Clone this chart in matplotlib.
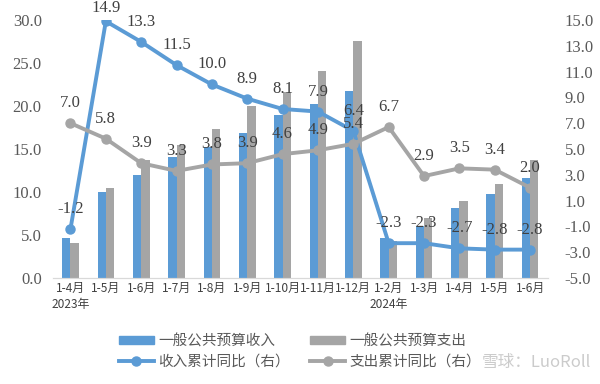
import numpy as np
import matplotlib
matplotlib.use('Agg')
import matplotlib.pyplot as plt
from matplotlib.patches import Patch
from matplotlib.lines import Line2D

plt.rcParams['font.family'] = ['Noto Sans CJK SC', 'DejaVu Sans']

# data
months = ['1-4月', '1-5月', '1-6月', '1-7月', '1-8月', '1-9月', '1-10月',
          '1-11月', '1-12月', '1-2月', '1-3月', '1-4月', '1-5月', '1-6月']
years = ['2023年', '', '', '', '', '', '', '', '', '2024年', '', '', '', '']
revenue = [4.6, 10.0, 12.0, 14.1, 15.2, 16.9, 18.9, 20.2, 21.8, 4.6, 6.1, 8.1, 9.8, 11.6]
spending = [4.1, 10.5, 13.7, 15.5, 17.3, 20.0, 21.6, 24.1, 27.6, 4.3, 7.0, 9.0, 10.9, 13.7]
revenue_yoy = [-1.2, 14.9, 13.3, 11.5, 10.0, 8.9, 8.1, 7.9, 6.4, -2.3, -2.3, -2.7, -2.8, -2.8]
spending_yoy = [7.0, 5.8, 3.9, 3.3, 3.8, 3.9, 4.6, 4.9, 5.4, 6.7, 2.9, 3.5, 3.4, 2.0]

blue = '#5B9BD5'
grey = '#A5A5A5'
txt = '#595959'
num_font = ['Liberation Serif', 'Noto Sans CJK SC']

fig = plt.figure(figsize=(6, 3.84), dpi=100)
ax = fig.add_axes([0.088, 0.276, 0.825, 0.672])
ax2 = ax.twinx()

x = np.arange(len(months))
w = 0.235
ax.bar(x - w / 2, revenue, w, color=blue, zorder=2)
ax.bar(x + w / 2, spending, w, color=grey, zorder=2)

ax2.plot(x, revenue_yoy, color=blue, lw=2.8, marker='o', ms=6.5, zorder=3)
ax2.plot(x, spending_yoy, color=grey, lw=2.8, marker='o', ms=6.5, zorder=3)

ax.set_xlim(-0.5, len(months) - 0.5)
ax.set_ylim(0, 30)
ax.set_yticks(np.arange(0, 31, 5))
ax.set_yticklabels(['{:.1f}'.format(v) for v in np.arange(0, 31, 5)])
ax2.set_ylim(-5, 15)
ax2.set_yticks(np.arange(-5, 16, 2))
ax2.set_yticklabels(['{:.1f}'.format(v) for v in np.arange(-5, 16, 2)])

ax.set_xticks(x)
ax.set_xticklabels([m + '\n' + y if y else m for m, y in zip(months, years)],
                   fontsize=8.6, color='#404040', linespacing=1.25)
ax.tick_params(axis='x', length=0, pad=3)
ax.tick_params(axis='y', length=0, pad=8, labelsize=12, labelcolor=txt)
ax2.tick_params(axis='y', length=0, pad=12, labelsize=12, labelcolor=txt)
for lab in ax.get_yticklabels() + ax2.get_yticklabels():
    lab.set_family(num_font)

for a in (ax, ax2):
    for s in ('top', 'left', 'right'):
        a.spines[s].set_visible(False)
    a.spines['bottom'].set_color('#D9D9D9')

# data labels above the points, pushed down if they would leave the figure
for series in (revenue_yoy, spending_yoy):
    for xi, v in zip(x, series):
        py = ax2.transData.transform((xi, v))[1]
        off = min(20, fig.bbox.height - py - 8)
        ax2.annotate('{:.1f}'.format(v), (xi, v), xytext=(0, off),
                     textcoords='offset pixels', ha='center', va='center',
                     fontsize=12, color='#404040', family=num_font, zorder=5)

handles = [Patch(color=blue), Line2D([], [], color=blue, lw=2.8, marker='o', ms=6.5),
           Patch(color=grey), Line2D([], [], color=grey, lw=2.8, marker='o', ms=6.5)]
labels = ['一般公共预算收入', '收入累计同比（右）', '一般公共预算支出', '支出累计同比（右）']
fig.legend(handles, labels, ncol=2, loc='center', bbox_to_anchor=(0.5, 0.085),
           frameon=False, fontsize=10.5, labelcolor=txt, handlelength=2.4,
           handletextpad=0.3, columnspacing=1.4, labelspacing=0.4,
           handleheight=0.5)

fig.text(0.985, 0.055, '雪球：LuoRoll', ha='right', va='center', fontsize=12,
         color='#BFBFBF', alpha=0.8)

fig.savefig('out.png', dpi=100)
